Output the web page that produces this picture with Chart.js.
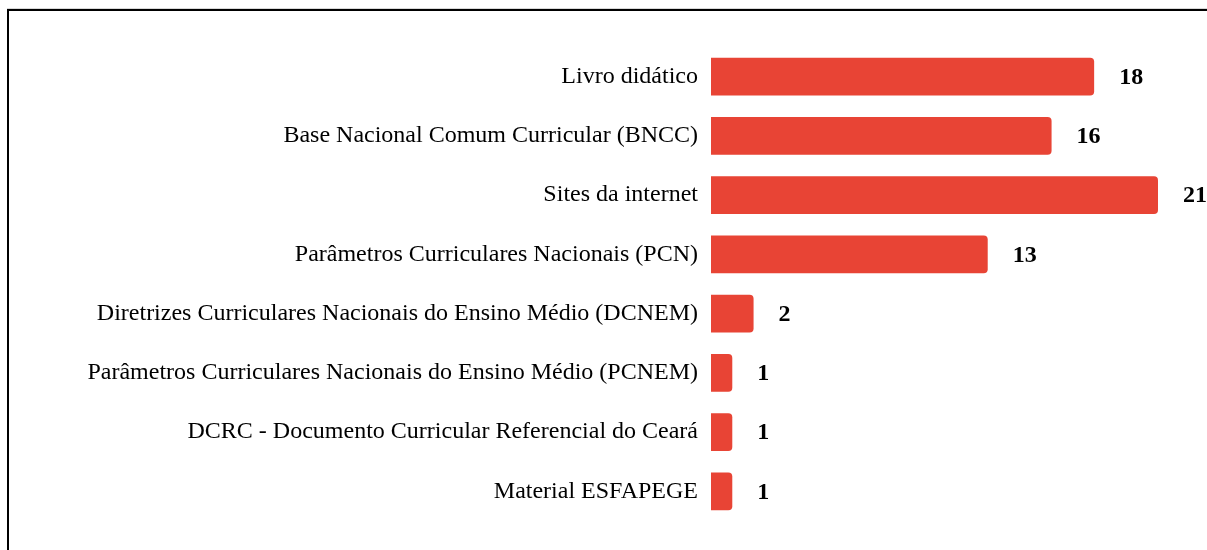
<!DOCTYPE html>
<html>
<head>
<meta charset="utf-8">
<script src="https://cdn.jsdelivr.net/npm/chart.js@4/dist/chart.umd.min.js"></script>
<style>
  html, body { margin: 0; padding: 0; background: #fff; overflow: hidden; }
  #wrap { position: relative; width: 1207px; height: 550px; }
  #frame {
    position: absolute; left: 7px; top: 9px; width: 1300px; height: 700px;
    border-left: 2px solid #000; border-top: 2px solid #000;
    box-shadow: 0 -1px 0 #d8d8d8; pointer-events: none;
  }
</style>
</head>
<body>
<div id="wrap">
  <canvas id="myChart" width="1207" height="550"></canvas>
  <div id="frame"></div>
</div>
<script>
const categories = [
  'Livro didático',
  'Base Nacional Comum Curricular (BNCC)',
  'Sites da internet',
  'Parâmetros Curriculares Nacionais (PCN)',
  'Diretrizes Curriculares Nacionais do Ensino Médio (DCNEM)',
  'Parâmetros Curriculares Nacionais do Ensino Médio (PCNEM)',
  'DCRC - Documento Curricular Referencial do Ceará',
  'Material ESFAPEGE'
];
const counts = [18, 16, 21, 13, 2, 1, 1, 1];

const serif = "'Liberation Serif', 'Times New Roman', serif";

// numbers at the end of each bar
const valueLabels = {
  id: 'valueLabels',
  afterDatasetsDraw(chart) {
    const ctx = chart.ctx;
    const meta = chart.getDatasetMeta(0);
    ctx.save();
    ctx.font = 'bold 24px ' + serif;
    ctx.fillStyle = '#000';
    ctx.textAlign = 'left';
    ctx.textBaseline = 'middle';
    meta.data.forEach((bar, i) => {
      ctx.fillText(String(counts[i]), bar.x + 25, bar.y + 1);
    });
    ctx.restore();
  }
};

new Chart(document.getElementById('myChart').getContext('2d'), {
  type: 'bar',
  data: {
    labels: categories,
    datasets: [{
      data: counts,
      backgroundColor: '#E84435',
      borderRadius: 4,
      barPercentage: 0.64,
      categoryPercentage: 1
    }]
  },
  options: {
    indexAxis: 'y',
    responsive: false,
    animation: false,
    layout: { padding: { top: 47, right: 49, bottom: 29, left: 0 } },
    plugins: {
      legend: { display: false },
      tooltip: { enabled: false }
    },
    scales: {
      x: {
        display: false,
        min: 0,
        max: 21
      },
      y: {
        grid: { display: false },
        border: { display: false },
        afterFit: s => { s.width = 711; },
        ticks: {
          padding: 5,
          color: '#000',
          font: { family: serif, size: 24 }
        }
      }
    }
  },
  plugins: [valueLabels]
});
</script>
</body>
</html>
